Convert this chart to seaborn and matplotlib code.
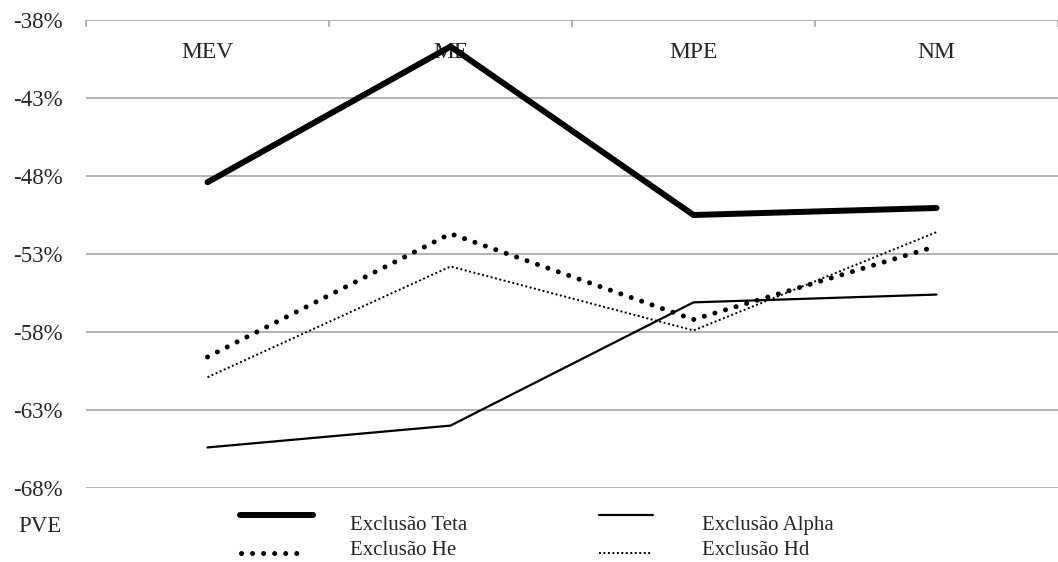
import matplotlib
matplotlib.use("Agg")
import matplotlib.pyplot as plt
import seaborn as sns
import pandas as pd
from matplotlib.ticker import FuncFormatter, FixedLocator
from matplotlib.legend_handler import HandlerLine2D
from matplotlib.transforms import Affine2D

categories = ["MEV", "ME", "MPE", "NM"]
teta = [-48.4, -39.7, -50.5, -50.05]
alpha = [-65.4, -64.0, -56.1, -55.6]
he = [-59.6, -51.7, -57.2, -52.5]
hd = [-60.9, -53.8, -57.9, -51.6]
yticks = [-38, -43, -48, -53, -58, -63, -68]
xlabel = "PVE"

sns.set_theme(style="white")
plt.rcParams["font.family"] = ["Liberation Serif", "DejaVu Serif"]

fig = plt.figure(figsize=(10.58, 5.62), dpi=100)
ax = fig.add_axes([86/1058, 1-488/562, 1-86/1058, (488-20)/562])

series = [
    ("Exclusão Teta", teta, dict(color="black", lw=4.3, solid_capstyle="round", solid_joinstyle="miter")),
    ("Exclusão Alpha", alpha, dict(color="black", lw=1.6)),
    ("Exclusão He", he, dict(color="black", lw=3.6, linestyle=(0, (0.01, 2.2)), dash_capstyle="round")),
    ("Exclusão Hd", hd, dict(color="black", lw=1.4, linestyle=(0, (1, 1.3)))),
]
handles = {}
for name, vals, kw in series:
    df = pd.DataFrame({"cat": categories, "val": vals})
    sns.lineplot(data=df, x="cat", y="val", ax=ax, sort=False, label=name, **kw)
    handles[name] = ax.get_lines()[-1]

ax.set_xlim(-0.5, (1058-208)/245)
ax.set_ylim(-68, -38)
ax.yaxis.set_major_locator(FixedLocator(yticks))
ax.yaxis.set_major_formatter(FuncFormatter(lambda v, p: f"{v:.0f}%"))
ax.grid(axis="y", color="#a6a6a6", lw=1.2)
ax.set_axisbelow(True)
for s in ax.spines.values():
    s.set_visible(False)
ax.tick_params(axis="y", length=0, pad=17, labelsize=16.5)

ax.xaxis.set_ticks_position("top")
ax.xaxis.set_label_position("top")
ax.set_xticks(range(len(categories)))
ax.set_xticklabels(categories)
ax.set_xticks([-0.5, 0.5, 1.5, 2.5, 3.5], minor=True)
ax.tick_params(axis="x", which="major", length=0, pad=-31, labelsize=17, labeltop=True, labelbottom=False)
ax.tick_params(axis="x", which="minor", length=5, direction="in", color="#a6a6a6", width=1.2, top=True, bottom=False)
ax.set_xlabel("")
ax.set_ylabel("")

fig.text(62/1058, 1-527/562, xlabel, ha="right", va="center", fontsize=16.5)

if ax.legend_:
    ax.legend_.remove()


class ShiftHandler(HandlerLine2D):
    def __init__(self, dx=0.0, dy=0.0, wscale=1.0, **kw):
        super().__init__(**kw)
        self.dx = dx
        self.dy = dy
        self.wscale = wscale

    def create_artists(self, legend, orig_handle, xdescent, ydescent, width, height, fontsize, trans):
        arts = super().create_artists(legend, orig_handle, xdescent, ydescent,
                                      width * self.wscale, height, fontsize, trans)
        shift = Affine2D().translate(self.dx, self.dy) + trans
        for a in arts:
            a.set_transform(shift)
        return arts


order = ["Exclusão Teta", "Exclusão He", "Exclusão Alpha", "Exclusão Hd"]
hmap = {
    handles["Exclusão Teta"]: ShiftHandler(dy=5.0, wscale=1.0),
    handles["Exclusão He"]: ShiftHandler(dx=1.0, dy=-3.5, wscale=0.86),
    handles["Exclusão Alpha"]: ShiftHandler(dx=5.0, dy=5.0, wscale=0.74),
    handles["Exclusão Hd"]: ShiftHandler(dx=5.0, dy=-3.5, wscale=0.72),
}
fig.legend([handles[n] for n in order], order, loc="upper left",
           bbox_to_anchor=(240/1058, 1-515/562), ncol=2, frameon=False,
           fontsize=15, handlelength=3.5, handletextpad=1.8, columnspacing=5.95,
           labelspacing=0.3, borderpad=0, borderaxespad=0, handler_map=hmap)

fig.savefig("out.png", dpi=100)
